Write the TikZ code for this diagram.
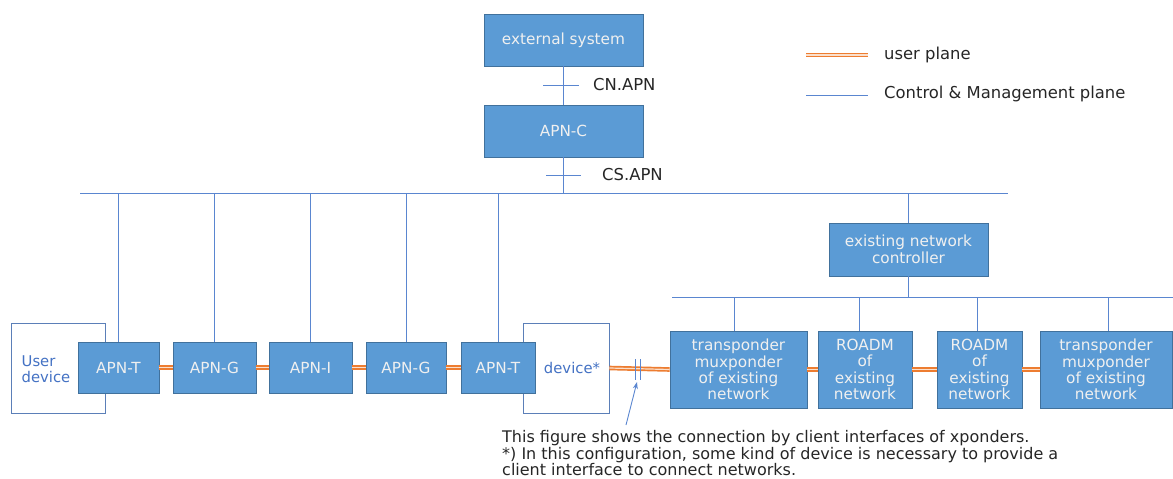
\documentclass[tikz,border=0pt]{standalone}
\usepackage{fontspec}
\setmainfont{DejaVu Sans}
\usetikzlibrary{arrows.meta}
\definecolor{boxfill}{HTML}{5B9BD5}
\definecolor{boxline}{HTML}{41719C}
\definecolor{ctl}{HTML}{5A86D0}
\definecolor{upl}{HTML}{ED7D31}
\definecolor{uplin}{HTML}{FBE0CC}
\definecolor{txt}{HTML}{262626}
\definecolor{devline}{HTML}{5B7FB8}
\definecolor{devtxt}{HTML}{4472C4}
\begin{document}
\begin{tikzpicture}[x=1pt,y=-1pt,
  bluebox/.style={draw=boxline,line width=0.9pt,fill=boxfill,text=white!94!black,inner sep=0pt,align=center,font=\fontsize{15.3}{16.4}\selectfont},
  devbox/.style={draw=devline,line width=0.9pt,fill=white,inner sep=0pt},
  ctlline/.style={draw=ctl,line width=0.9pt},
  upline/.style={draw=upl,double=uplin,line width=1.7pt,double distance=1.2pt},
  lbl/.style={text=txt,inner sep=0pt,anchor=west,font=\fontsize{16.4}{18}\selectfont},
  notetxt/.style={text=txt,inner sep=0pt,anchor=north west,align=left,font=\fontsize{16}{16.8}\selectfont}]
\useasboundingbox (0,0) rectangle (1173,479);

% top boxes
\node[bluebox,minimum width=159pt,minimum height=52pt] (ext) at (563.5,40) {external system};
\node[bluebox,minimum width=159pt,minimum height=52pt] (apnc) at (563.5,131) {APN-C};
\draw[ctlline] (ext.south) -- (apnc.north);
\coordinate (cnL) at (543,85); \coordinate (cnR) at (579,85);
\draw[ctlline] (cnL) -- (cnR);
\node[lbl] (cn) at (593,85) {CN.APN};

% main bus
\coordinate (b1L) at (80,193); \coordinate (b1R) at (1008,193);
\draw[ctlline] (b1L) -- (b1R);
\draw[ctlline] (apnc.south) -- (apnc.south |- b1L);
\coordinate (csL) at (546,175); \coordinate (csR) at (581,175);
\draw[ctlline] (csL) -- (csR);
\node[lbl] (cs) at (602,175) {CS.APN};

% device boxes
\node[devbox,minimum width=94pt,minimum height=90pt] (udev) at (58,368) {};
\node[devbox,minimum width=86pt,minimum height=90pt] (dev) at (566,368) {};
\node[inner sep=0pt,align=left,text=devtxt,font=\fontsize{14.8}{15.5}\selectfont] (udevt) at (46,369) {User\\device};
\node[inner sep=0pt,text=devtxt,font=\fontsize{14.8}{15}\selectfont] (devt) at (572,368) {device*};

% APN boxes
\node[bluebox,minimum width=81pt,minimum height=51pt] (t1) at (118.5,367.5) {APN-T};
\node[bluebox,minimum width=83pt,minimum height=51pt] (g1) at (214.5,367.5) {APN-G};
\node[bluebox,minimum width=83pt,minimum height=51pt] (i1) at (310.5,367.5) {APN-I};
\node[bluebox,minimum width=80pt,minimum height=51pt] (g2) at (406,367.5) {APN-G};
\node[bluebox,minimum width=74pt,minimum height=51pt] (t2) at (498,367.5) {APN-T};
\foreach \n in {t1,g1,i1,g2,t2}{\draw[ctlline] (\n.north |- b1L) -- (\n.north);}

% existing network controller
\node[bluebox,minimum width=159pt,minimum height=53pt,font=\fontsize{15.3}{17}\selectfont] (enc) at (908.5,249.5) {existing network\\controller};
\draw[ctlline] (enc.north |- b1L) -- (enc.north);
\coordinate (b2L) at (672,297); \coordinate (b2R) at (1173,297);
\draw[ctlline] (b2L) -- (b2R);
\draw[ctlline] (enc.south) -- (enc.south |- b2L);

% existing network boxes
\node[bluebox,minimum width=137pt,minimum height=77pt] (tr1) at (738.5,369.5) {transponder\\muxponder\\of existing\\network};
\node[bluebox,minimum width=94pt,minimum height=77pt] (ro1) at (865,369.5) {ROADM\\of\\existing\\network};
\node[bluebox,minimum width=85pt,minimum height=77pt] (ro2) at (979.5,369.5) {ROADM\\of\\existing\\network};
\node[bluebox,minimum width=132pt,minimum height=77pt] (tr2) at (1106,369.5) {transponder\\muxponder\\of existing\\network};
\coordinate (d1) at (734,297); \coordinate (d2) at (859,297);
\coordinate (d3) at (977,297); \coordinate (d4) at (1108,297);
\draw[ctlline] (d1) -- (d1 |- tr1.north);
\draw[ctlline] (d2) -- (d2 |- ro1.north);
\draw[ctlline] (d3) -- (d3 |- ro2.north);
\draw[ctlline] (d4) -- (d4 |- tr2.north);

% user plane
\draw[upline] (t1.east) -- (g1.west);
\draw[upline] (g1.east) -- (i1.west);
\draw[upline] (i1.east) -- (g2.west);
\draw[upline] (g2.east) -- (t2.west);
\draw[upline] (dev.east) -- (tr1.west);
\draw[upline] (tr1.east) -- (ro1.west);
\draw[upline] (ro1.east) -- (ro2.west);
\draw[upline] (ro2.east) -- (tr2.west);

% client interface marks and arrow
\coordinate (m1a) at (635,359); \coordinate (m1b) at (635,380);
\coordinate (m2a) at (640,359); \coordinate (m2b) at (640,380);
\draw[ctlline] (m1a) -- (m1b);
\draw[ctlline] (m2a) -- (m2b);
\coordinate (arT) at (626,425); \coordinate (arH) at (637,382);
\draw[ctlline,-{Stealth[length=7pt,width=5pt]}] (arT) -- (arH);

% note
\node[notetxt] (note) at (502,430) {This figure shows the connection by client interfaces of xponders.\\*) In this configuration, some kind of device is necessary to provide a\\client interface to connect networks.};

% legend
\coordinate (lg1L) at (806,55); \coordinate (lg1R) at (868,55);
\draw[upline] (lg1L) -- (lg1R);
\node[lbl] (lg1) at (884,55) {user plane};
\coordinate (lg2L) at (806,95); \coordinate (lg2R) at (868,95);
\draw[ctlline] (lg2L) -- (lg2R);
\node[lbl] (lg2) at (884,94) {Control \& Management plane};
\end{tikzpicture}
\end{document}
